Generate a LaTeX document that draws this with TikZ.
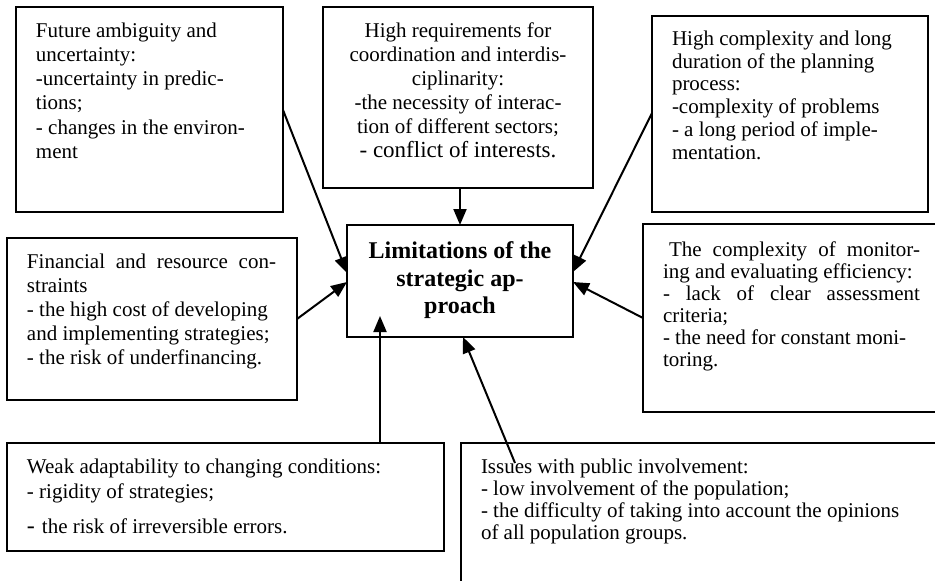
\documentclass[tikz,border=0pt]{standalone}
\usepackage{fontspec}
\setmainfont{Liberation Serif}
\usetikzlibrary{arrows.meta,calc}
\tikzset{
  box/.style={draw, line width=1.7pt, anchor=north west, inner sep=0pt, outer sep=0pt},
  arr/.style={line width=2pt, -{Triangle[length=16pt,width=13pt]}},
}
\newcommand\bodyfont[1]{\fontsize{21}{#1}\selectfont}
\newcommand\boxtext[6]{\parbox[b][#1][t]{#2}{\vspace*{#3}\hspace*{#4}\parbox[t]{#5}{#6}}}
\begin{document}
\begin{tikzpicture}[x=1pt,y=-1pt]
\useasboundingbox (0,0) rectangle (935,581);
\clip (0,0) rectangle (935,581);

\node[box] (b1) at (16,7) {\boxtext{205pt}{267pt}{15.5pt}{20pt}{240pt}{\bodyfont{24.3}\raggedright Future ambiguity and\\ uncertainty:\\ -uncertainty in predic-\\ tions;\\ - changes in the environ-\\ ment}};

\node[box] (b2) at (323,7) {\boxtext{181pt}{270pt}{15.5pt}{10pt}{250pt}{\bodyfont{24}\centering High requirements for\\ coordination and interdis-\\ ciplinarity:\\ -the necessity of interac-\\ tion of different sectors;\\ {\fontsize{23}{24}\selectfont - conflict of interests.}}};

\node[box] (b3) at (652,16) {\boxtext{196pt}{276pt}{15pt}{20pt}{250pt}{\bodyfont{22.7}\raggedright High complexity and long\\ duration of the planning\\ process:\\ -complexity of problems\\ - a long period of imple-\\ mentation.}};

\node[box] (b4) at (7,238) {\boxtext{162pt}{290pt}{15.5pt}{20pt}{249pt}{\bodyfont{24.2}\raggedright \makebox[\linewidth][s]{Financial and resource con-}\\ straints\\ - the high cost of developing\\ and implementing strategies;\\ - the risk of underfinancing.}};

\node[box] (c) at (347,225) {\parbox[b][112pt][t]{226pt}{\vspace*{17pt}\fontsize{24}{27.5}\selectfont\bfseries\centering Limitations of the\\ strategic ap-\\ proach}};

\node[box] (b6) at (643,224) {\boxtext{188pt}{300pt}{18pt}{20pt}{257pt}{\bodyfont{22}\raggedright \makebox[\linewidth][s]{\hspace*{6pt}The complexity of monitor-}\\ ing and evaluating efficiency:\\ \makebox[\linewidth][s]{- lack of clear assessment}\\ criteria;\\ - the need for constant moni-\\ toring.}};

\node[box] (b7) at (7,443) {\boxtext{108pt}{437pt}{15.5pt}{20pt}{410pt}{\bodyfont{25}\raggedright Weak adaptability to changing conditions:\\ - rigidity of strategies;\\[10pt] {\fontsize{24}{24}\selectfont -}\hspace{7pt}the risk of irreversible errors.}};

\node[box] (b8) at (461,443) {\boxtext{150pt}{480pt}{15.5pt}{20pt}{440pt}{\bodyfont{22.2}\raggedright Issues with public involvement:\\ - low involvement of the population;\\ - the difficulty of taking into account the opinions\\ of all population groups.}};

\draw[arr] ($(b1.north east)+(0,103)$) -- ($(c.north west)+(0,48)$);
\draw[arr] (c.north |- b2.south) -- (c.north);
\draw[arr] ($(b3.north west)+(0,97)$) -- ($(c.north east)+(0,47)$);
\draw[arr] ($(b4.north east)+(0,81)$) -- ($(c.north west)+(0,57)$);
\draw[arr] ($(b6.north west)+(0,94)$) -- ($(c.north east)+(0,57)$);
\draw[arr] ($(b7.north west)+(373,0)$) -- ($(c.north west)+(33,91)$);
\draw[arr] ($(b8.north west)+(54,20)$) -- ($(c.south west)+(116,0)$);
\end{tikzpicture}
\end{document}
